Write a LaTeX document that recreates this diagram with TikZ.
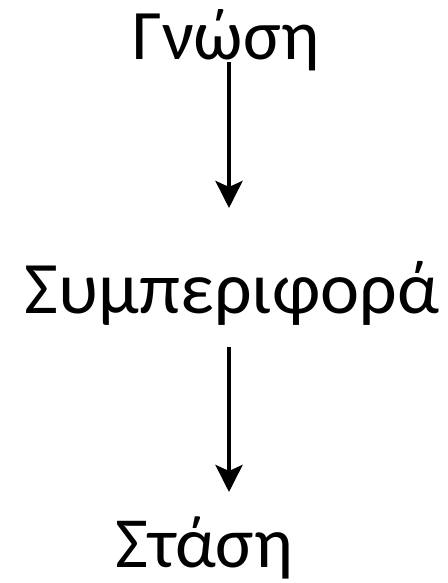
\documentclass[tikz,border=0pt]{standalone}
\usepackage{fontspec}
\setmainfont{Carlito}
\usetikzlibrary{arrows.meta}

\begin{document}
\begin{tikzpicture}[x=0.5pt, y=-0.5pt,
    word/.style={anchor=base, inner sep=0pt},
    arr/.style={-{Stealth[length=13.5pt, width=13.5pt, inset=3pt]}, line width=2.2pt}
]
\useasboundingbox (0,0) rectangle (448,583);
\node[word, font=\fontsize{35.5}{42}\selectfont] (gnosi) at (226,60) {Γνώση};
\node[word, font=\fontsize{37}{44}\selectfont] (symp) at (232,313) {Συμπεριφορά};
\node[word, font=\fontsize{36}{43}\selectfont] (stasi) at (204,567) {Στάση};

\draw[arr] ([xshift=1.5pt, yshift=-1pt]gnosi.base) -- ([xshift=-1.5pt, yshift=52.5pt]symp.base);
\draw[arr] ([xshift=-1.5pt, yshift=-17pt]symp.base) -- ([xshift=12.5pt, yshift=37.5pt]stasi.base);
\end{tikzpicture}
\end{document}
